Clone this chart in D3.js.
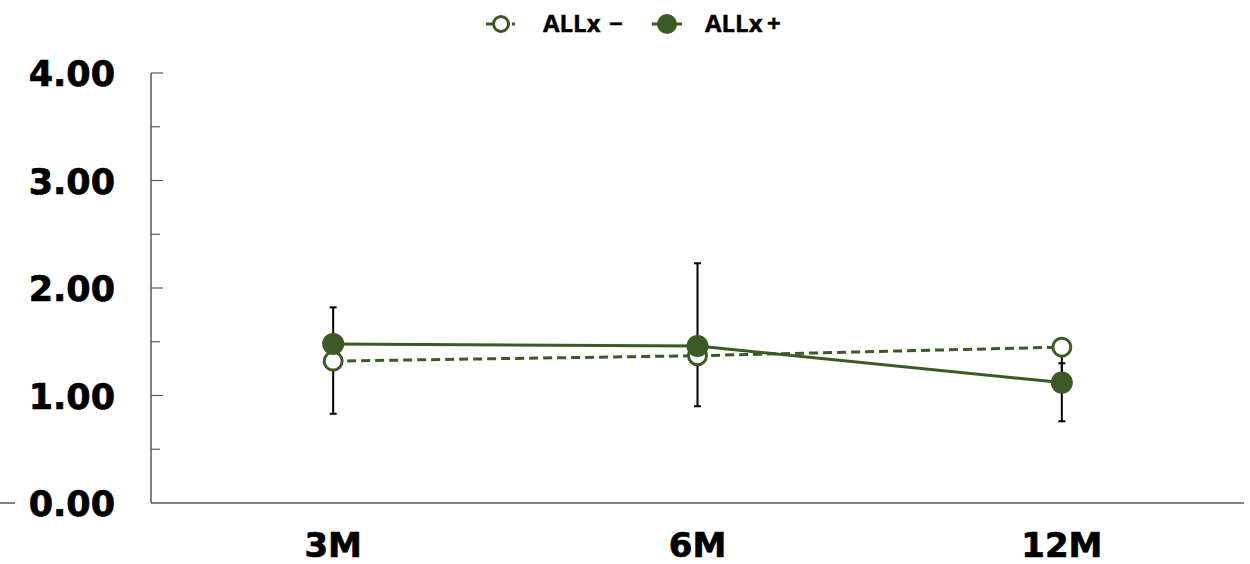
<!DOCTYPE html>
<html><head><meta charset="utf-8">
<script src="https://cdn.jsdelivr.net/npm/d3@7"></script>
<style>body{margin:0;background:#fff}svg{display:block}</style>
</head><body>
<svg id="c" width="1250" height="564"></svg>
<script>
const categories = ["3M", "6M", "12M"];
const seriesNames = ["ALLx", "ALLx"];
const seriesSigns = ["\u2212", "+"];
const allxMinus = [1.32, 1.37, 1.45];
const allxPlus = [1.48, 1.46, 1.12];
const minusLower = [0.83, 0.90, 0.76];   // lower error-bar ends (ALLx −)
const plusUpper = [1.82, 2.23, 1.30];    // upper error-bar ends (ALLx +)
const yTicks = [0, 1, 2, 3, 4];
const yMinor = [0.5, 1.5, 2.5, 3.5];

(function () {
const color = "#3b5a25";
const svg = d3.select("#c");
const pL = 151, pR = 1244, pT = 73, pB = 503;
const x = d3.scalePoint().domain(categories).range([pL, pR]).padding(0.5);
const y = d3.scaleLinear().domain([0, 4]).range([pB, pT]);

const g = svg.append("g");
g.append("line").attr("x1", pL).attr("x2", pL).attr("y1", pT).attr("y2", pB)
  .attr("stroke", "#595959").attr("stroke-width", 1.5);
g.append("line").attr("x1", pL).attr("x2", pR).attr("y1", pB).attr("y2", pB)
  .attr("stroke", "#595959").attr("stroke-width", 1.5);
g.append("line").attr("x1", 0).attr("x2", 15).attr("y1", pB).attr("y2", pB)
  .attr("stroke", "#595959").attr("stroke-width", 1.5);
g.selectAll(".maj").data(yTicks.filter(d => d > 0)).enter().append("line")
  .attr("x1", pL).attr("x2", pL + 12).attr("y1", d => y(d)).attr("y2", d => y(d))
  .attr("stroke", "#595959").attr("stroke-width", 1.2);
g.selectAll(".min").data(yMinor).enter().append("line")
  .attr("x1", pL).attr("x2", pL + 9).attr("y1", d => y(d)).attr("y2", d => y(d))
  .attr("stroke", "#595959").attr("stroke-width", 1.2);
g.selectAll(".yl").data(yTicks).enter().append("text")
  .attr("x", 115).attr("y", d => y(d) + 13).attr("text-anchor", "end")
  .attr("font-family", "DejaVu Sans").attr("font-weight", "bold").attr("font-size", 35)
  .attr("fill", "#000").attr("stroke", "#000").attr("stroke-width", 0.7)
  .text(d => d.toFixed(2));
g.selectAll(".xl").data(categories).enter().append("text")
  .attr("x", d => x(d)).attr("y", 557).attr("text-anchor", "middle")
  .attr("font-family", "DejaVu Sans").attr("font-weight", "bold").attr("font-size", 34)
  .attr("fill", "#000").attr("stroke", "#000").attr("stroke-width", 0.7)
  .text(d => d);

function errBar(i, v0, v1) {
  const cx = x(categories[i]);
  g.append("line").attr("x1", cx).attr("x2", cx).attr("y1", y(v0)).attr("y2", y(v1))
    .attr("stroke", "#000").attr("stroke-width", 2);
  g.append("line").attr("x1", cx - 3.5).attr("x2", cx + 3.5).attr("y1", y(v1)).attr("y2", y(v1))
    .attr("stroke", "#000").attr("stroke-width", 2);
}
categories.forEach((c, i) => { errBar(i, allxMinus[i], minusLower[i]); errBar(i, allxPlus[i], plusUpper[i]); });

const line = d3.line().x((d, i) => x(categories[i])).y(d => y(d));
g.append("path").datum(allxMinus).attr("d", line).attr("fill", "none")
  .attr("stroke", color).attr("stroke-width", 3).attr("stroke-dasharray", "9,5");
g.append("path").datum(allxPlus).attr("d", line).attr("fill", "none")
  .attr("stroke", color).attr("stroke-width", 3);

g.selectAll(".mo").data(allxMinus).enter().append("circle")
  .attr("cx", (d, i) => x(categories[i])).attr("cy", d => y(d)).attr("r", 9)
  .attr("fill", "#fff").attr("stroke", color).attr("stroke-width", 3);
g.selectAll(".mf").data(allxPlus).enter().append("circle")
  .attr("cx", (d, i) => x(categories[i])).attr("cy", d => y(d)).attr("r", 11)
  .attr("fill", color);

const lg = svg.append("g");
const legX = [501, 667], txtX = [543, 705], signX = [609, 767];
seriesNames.forEach((n, i) => {
  lg.append("line").attr("x1", legX[i] - 15).attr("x2", legX[i] + 15).attr("y1", 24).attr("y2", 24)
    .attr("stroke", color).attr("stroke-width", 3).attr("stroke-dasharray", i === 0 ? "8,18,3,2" : null);
  if (i === 0) {
    lg.append("circle").attr("cx", legX[i]).attr("cy", 24).attr("r", 7.5)
      .attr("fill", "#fff").attr("stroke", color).attr("stroke-width", 3);
  } else {
    lg.append("circle").attr("cx", legX[i]).attr("cy", 24).attr("r", 10).attr("fill", color);
  }
  lg.append("text").attr("x", txtX[i]).attr("y", 32).attr("font-family", "Open Sans")
    .attr("font-weight", "bold").attr("font-size", 24).attr("fill", "#000")
    .attr("stroke", "#000").attr("stroke-width", 0.4).text(n);
  lg.append("text").attr("x", signX[i]).attr("y", 32).attr("font-family", "Open Sans")
    .attr("font-weight", "bold").attr("font-size", 24).attr("fill", "#000")
    .attr("stroke", "#000").attr("stroke-width", 0.4).text(seriesSigns[i]);
});
})();
</script>
</body></html>
